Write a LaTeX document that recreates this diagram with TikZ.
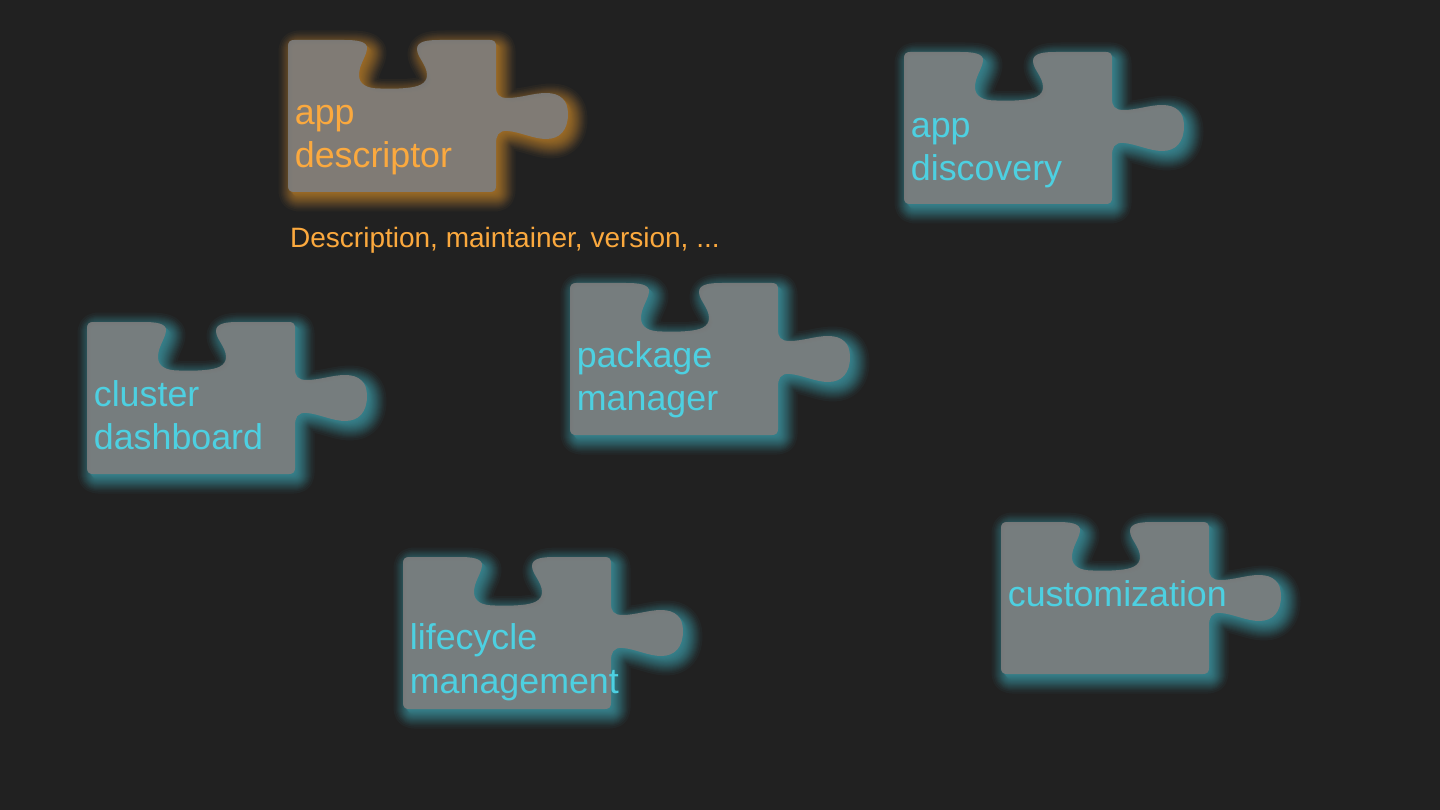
\documentclass[tikz,border=0pt]{standalone}
\usepackage{fontspec}
\setmainfont{Liberation Sans}
\definecolor{bgc}{HTML}{212121}
\definecolor{orangec}{HTML}{FBA93E}
\definecolor{cyanc}{HTML}{4DD0E1}
\definecolor{piecefill}{HTML}{7E7E7E}
\def\piecepath{(0,6) .. controls (0,2) and (2,0) .. (6,0) -- (56,0)
 .. controls (68,0) and (80,1) .. (79,9)
 .. controls (78,17) and (71,25) .. (71,35)
 .. controls (71,44) and (78,48.5) .. (92,48.5)
 .. controls (100,48.5) and (108,49) .. (118,48)
 .. controls (130,47) and (139,44) .. (139,35)
 .. controls (139,25) and (129,17) .. (129,9)
 .. controls (129,1) and (140,0) .. (152,0) -- (202,0)
 .. controls (206,0) and (208,2) .. (208,6) -- (208,46)
 .. controls (208,54) and (210,58) .. (220,58)
 .. controls (232,58) and (246,53) .. (258,53)
 .. controls (272,53) and (280,60) .. (280,74)
 .. controls (280,90) and (272,99) .. (258,99)
 .. controls (246,99) and (232,92) .. (220,91)
 .. controls (210,90) and (208,96) .. (208,104) -- (208,146)
 .. controls (208,150) and (206,152) .. (202,152) -- (6,152)
 .. controls (2,152) and (0,150) .. (0,146) -- cycle}
\tikzset{
 labeltext/.style={anchor=north west,inner sep=0pt,align=left,font=\fontsize{35.8}{43.5}\selectfont},
 smalltext/.style={anchor=base west,inner sep=0pt,text=orangec,font=\fontsize{28}{32}\selectfont}
}
\newcommand{\puzzlepiece}[6]{%
 \begin{scope}[shift={(#1,#2)}]
  \foreach \sh/\w in {1/.1,1.8/.1,2.6/.1,3.3/.1,4/.1,4.8/.1,5/1.2,5/2.8,5/4.4,5/6,5/7.6,5/9.2,5/10.8,5/12.4,5/14,5/16,5/18,5/20,5/22,5/25,5/29}{%
    \begin{scope}[shift={(\sh,\sh)},transparency group,opacity=.04]
     \filldraw[#3,line width=\w pt,line join=round] \piecepath;
    \end{scope}}
  \fill[piecefill,opacity=.9] \piecepath;
  \node[labeltext,text=#3] (#4) at (6.7,#6) {\rule{0pt}{33pt}#5};
 \end{scope}}
\begin{document}
\begin{tikzpicture}[x=1pt,y=-1pt]
\useasboundingbox (0,0) rectangle (1440,810);
\fill[bgc] (0,0) rectangle (1440,810);
\puzzlepiece{288}{40}{orangec}{appdesc}{app\\descriptor}{51}
\puzzlepiece{904}{52}{cyanc}{appdisc}{app\\discovery}{52}
\puzzlepiece{87}{322}{cyanc}{cluster}{cluster\\dashboard}{51}
\puzzlepiece{570}{283}{cyanc}{package}{package\\manager}{51}
\puzzlepiece{403}{557}{cyanc}{lifecycle}{lifecycle\\management}{59.5}
\puzzlepiece{1001}{522}{cyanc}{custom}{customization}{51}
\node[smalltext] (details) at (290,248) {Description, maintainer, version, ...};
\end{tikzpicture}
\end{document}
